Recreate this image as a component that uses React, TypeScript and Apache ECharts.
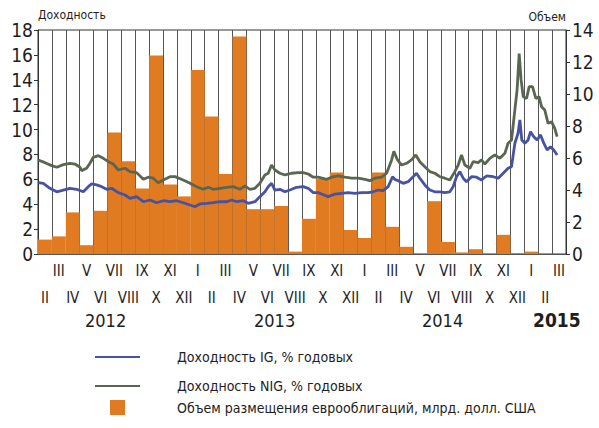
import React, { useEffect, useRef } from "react";
import * as echarts from "echarts";

const FONT = "'Liberation Sans Narrow', 'Arial Narrow', 'DejaVu Sans Condensed', 'Liberation Sans', sans-serif";

// Months from February 2012 to March 2015
const monthLabels = [
  "II", "III", "IV", "V", "VI", "VII", "VIII", "IX", "X", "XI", "XII",
  "I", "II", "III", "IV", "V", "VI", "VII", "VIII", "IX", "X", "XI", "XII",
  "I", "II", "III", "IV", "V", "VI", "VII", "VIII", "IX", "X", "XI", "XII",
  "I", "II", "III",
];

const years = ["2012", "2013", "2014", "2015"];

// Eurobond placements, bn USD (right axis)
const volume = [
  0.9, 1.1, 2.6, 0.55, 2.7, 7.6, 5.8, 4.1, 12.4, 4.35, 3.6,
  11.5, 8.6, 5.0, 13.6, 2.8, 2.8, 3.0, 0.15, 2.2, 4.7, 5.1, 1.5,
  1.0, 5.1, 1.7, 0.45, 0, 3.3, 0.75, 0.1, 0.3, 0, 1.2, 0.05,
  0.15, 0, 0,
];

// Yields, % p.a. ([month position from start of Feb 2012, value])
const igYield = [
  [0.02, 5.73], [0.38, 5.68], [0.86, 5.28], [1.35, 5.0], [1.82, 5.14], [2.3, 5.28],
  [2.78, 5.2], [3.26, 5.0], [3.62, 5.41], [3.86, 5.63], [4.22, 5.55], [4.58, 5.41],
  [4.94, 5.2], [5.3, 5.28], [5.78, 4.93], [6.26, 4.74], [6.62, 4.47], [7.1, 4.61],
  [7.58, 4.2], [8.06, 4.34], [8.54, 4.12], [9.01, 4.28], [9.5, 4.2], [9.98, 4.28],
  [10.45, 4.12], [10.94, 3.94], [11.29, 3.8], [11.65, 4.02], [12.14, 4.07], [12.61, 4.12],
  [13.09, 4.2], [13.58, 4.2], [13.94, 4.34], [14.29, 4.2], [14.77, 4.28], [15.13, 4.07],
  [15.61, 4.2], [15.97, 4.61], [16.33, 5.0], [16.57, 5.41], [16.81, 5.68], [17.05, 5.14],
  [17.41, 5.2], [17.77, 5.0], [18.13, 5.14], [18.61, 5.36], [19.09, 5.41], [19.45, 5.28],
  [19.81, 4.93], [20.17, 4.93], [20.41, 4.82], [20.88, 4.61], [21.37, 4.82], [21.85, 4.88],
  [22.32, 4.93], [22.81, 4.88], [23.29, 4.93], [23.76, 4.93], [24.12, 5.0], [24.48, 5.14],
  [24.84, 5.09], [25.2, 5.41], [25.52, 6.21], [25.68, 6.0], [25.92, 5.89], [26.28, 5.68],
  [26.64, 5.81], [27.0, 6.21], [27.24, 6.49], [27.48, 6.09], [27.84, 5.55], [28.2, 5.14],
  [28.56, 5.0], [28.92, 5.0], [29.28, 4.93], [29.64, 5.0], [29.88, 5.41], [30.12, 6.21],
  [30.36, 6.62], [30.6, 6.09], [30.84, 5.81], [31.2, 6.21], [31.56, 6.17], [31.92, 5.95],
  [32.28, 6.27], [32.76, 6.21], [33.12, 6.09], [33.48, 6.49], [33.83, 6.89], [34.08, 7.02],
  [34.32, 8.9], [34.55, 9.7], [34.68, 10.77], [34.82, 9.16], [35.04, 8.9], [35.27, 9.16],
  [35.45, 9.83], [35.68, 9.43], [35.92, 9.16], [36.17, 9.57], [36.4, 8.9], [36.64, 8.36],
  [36.88, 8.62], [37.12, 8.36], [37.36, 7.96],
];

const nigYield = [
  [0.02, 7.55], [0.5, 7.34], [0.99, 7.1], [1.35, 6.97], [1.82, 7.18], [2.3, 7.29],
  [2.66, 7.23], [3.02, 6.97], [3.14, 6.7], [3.5, 6.89], [3.74, 7.29], [3.98, 7.77],
  [4.34, 7.9], [4.7, 7.69], [5.06, 7.42], [5.42, 7.23], [5.78, 6.75], [6.26, 6.89],
  [6.62, 6.62], [7.1, 6.54], [7.58, 6.0], [7.94, 6.17], [8.29, 6.09], [8.65, 5.73],
  [9.01, 5.95], [9.5, 6.21], [9.86, 6.22], [10.45, 5.95], [10.94, 5.68], [11.42, 5.41],
  [11.89, 5.2], [12.25, 5.36], [12.61, 5.2], [13.09, 5.28], [13.58, 5.36], [14.05, 5.41],
  [14.53, 5.2], [14.89, 5.47], [15.25, 5.2], [15.61, 5.28], [15.97, 5.68], [16.33, 6.35],
  [16.57, 6.49], [16.81, 7.15], [17.05, 6.75], [17.41, 6.49], [17.77, 6.35], [18.25, 6.49],
  [18.73, 6.54], [19.09, 6.54], [19.45, 6.43], [19.81, 6.17], [20.17, 6.17], [20.77, 6.0],
  [21.13, 6.17], [21.6, 6.27], [22.09, 6.17], [22.57, 6.09], [23.04, 6.09], [23.53, 6.0],
  [23.88, 5.89], [24.24, 6.09], [24.73, 6.17], [25.09, 6.49], [25.45, 7.56], [25.61, 8.25],
  [25.85, 7.61], [26.17, 7.15], [26.53, 7.29], [26.88, 7.56], [27.19, 7.96], [27.48, 7.42],
  [27.84, 7.02], [28.2, 6.62], [28.56, 6.49], [28.92, 6.21], [29.28, 6.09], [29.64, 5.95],
  [30.0, 6.62], [30.24, 7.15], [30.48, 7.96], [30.72, 7.15], [31.08, 6.89], [31.32, 7.42],
  [31.68, 7.34], [31.92, 7.56], [32.16, 7.23], [32.52, 7.69], [32.88, 7.96], [33.24, 7.69],
  [33.6, 8.09], [33.83, 8.9], [34.08, 9.16], [34.32, 11.58], [34.48, 13.18], [34.63, 16.1],
  [34.77, 13.99], [34.92, 12.64], [35.16, 12.5], [35.35, 13.45], [35.59, 13.45], [35.83, 12.5],
  [36.06, 12.64], [36.24, 11.84], [36.47, 11.58], [36.71, 10.5], [36.96, 10.63], [37.19, 10.1],
  [37.36, 9.43],
];

const seriesNames = [
  "Доходность IG, % годовых",
  "Доходность NIG, % годовых",
  "Объем размещения еврооблигаций, млрд. долл. США",
];

const TEXT = "#1e1e1e";
const IG_COLOR = "#4652a2";
const NIG_COLOR = "#5a6652";
const BAR_COLOR = "#e07b22";

export default function App() {
  const ref = useRef<HTMLDivElement>(null);

  useEffect(() => {
    if (!ref.current) return;
    const chart = echarts.init(ref.current, undefined, { renderer: "svg" });
    const yearPos = [103, 272, 440, 553];
    chart.setOption({
      animation: false,
      backgroundColor: "#ffffff",
      grid: {
        left: 38, right: 33, top: 30, bottom: 174,
        show: true, borderColor: "#333", borderWidth: 1, backgroundColor: "transparent",
      },
      xAxis: [
        {
          type: "category",
          data: monthLabels,
          boundaryGap: true,
          axisLine: { show: true, lineStyle: { color: "#555", width: 1 } },
          axisTick: { show: false, interval: 0 },
          splitLine: { show: true, interval: 0, lineStyle: { color: "#555", width: 1 } },
          axisLabel: {
            interval: 0,
            margin: 9,
            formatter: (v: string, i: number) => (i % 2 === 0 ? `{lo|${v}}` : `{hi|${v}}`),
            rich: {
              hi: { fontFamily: FONT, fontSize: 15, color: TEXT },
              lo: { fontFamily: FONT, fontSize: 15, color: TEXT, padding: [27, 0, 0, 0] },
            },
          },
        },
        { type: "value", min: 0, max: 38, show: false },
      ],
      yAxis: [
        {
          type: "value", min: 0, max: 18, interval: 2, position: "left",
          name: "Доходность", nameLocation: "end", nameGap: 7,
          nameTextStyle: { fontFamily: FONT, fontSize: 12, color: TEXT, align: "left" },
          axisLine: { show: true, lineStyle: { color: "#333" } },
          axisTick: { show: true, length: 4, lineStyle: { color: "#333" } },
          axisLabel: { fontFamily: FONT, fontSize: 19, color: TEXT, margin: 5 },
          splitLine: { show: false },
        },
        {
          type: "value", min: 0, max: 14, interval: 2, position: "right",
          name: "Объем", nameLocation: "end", nameGap: 7,
          nameTextStyle: { fontFamily: FONT, fontSize: 12, color: TEXT, align: "right" },
          axisLine: { show: true, lineStyle: { color: "#333" } },
          axisTick: { show: true, length: 4, lineStyle: { color: "#333" } },
          axisLabel: { fontFamily: FONT, fontSize: 19, color: TEXT, margin: 6 },
          splitLine: { show: false },
        },
      ],
      legend: [
        {
          data: [{ name: seriesNames[0], icon: "rect" }], left: 90, top: 345, itemWidth: 45, itemHeight: 2,
          textStyle: { fontFamily: FONT, fontSize: 14, color: TEXT, padding: [0, 0, 0, 32] },
        },
        {
          data: [{ name: seriesNames[1], icon: "rect" }], left: 90, top: 374, itemWidth: 45, itemHeight: 2,
          textStyle: { fontFamily: FONT, fontSize: 14, color: TEXT, padding: [0, 0, 0, 32] },
        },
        {
          data: [{ name: seriesNames[2], icon: "rect" }], left: 105, top: 395, itemWidth: 15, itemHeight: 15,
          textStyle: { fontFamily: FONT, fontSize: 14, color: TEXT, padding: [0, 0, 0, 47] },
        },
      ],
      graphic: years.map((y, i) => ({
        type: "text",
        left: yearPos[i] - (i === 3 ? 20 : 18),
        top: i === 3 ? 310 : 311,
        style: {
          text: y,
          fontFamily: FONT,
          fontSize: i === 3 ? 19 : 18,
          fontWeight: i === 3 ? "bold" : "normal",
          fill: TEXT,
        },
      })),
      series: [
        {
          name: seriesNames[2],
          type: "bar",
          xAxisIndex: 0,
          yAxisIndex: 1,
          data: volume,
          barCategoryGap: "0%",
          itemStyle: { color: BAR_COLOR },
        },
        {
          name: seriesNames[0],
          type: "line",
          xAxisIndex: 1,
          yAxisIndex: 0,
          data: igYield,
          symbol: "none",
          lineStyle: { color: IG_COLOR, width: 2.8 },
          itemStyle: { color: IG_COLOR },
        },
        {
          name: seriesNames[1],
          type: "line",
          xAxisIndex: 1,
          yAxisIndex: 0,
          data: nigYield,
          symbol: "none",
          lineStyle: { color: NIG_COLOR, width: 2.8 },
          itemStyle: { color: NIG_COLOR },
        },
      ],
    });
    return () => chart.dispose();
  }, []);

  return <div ref={ref} style={{ width: 599, height: 428, position: "absolute", left: 0, top: 0 }} />;
}
